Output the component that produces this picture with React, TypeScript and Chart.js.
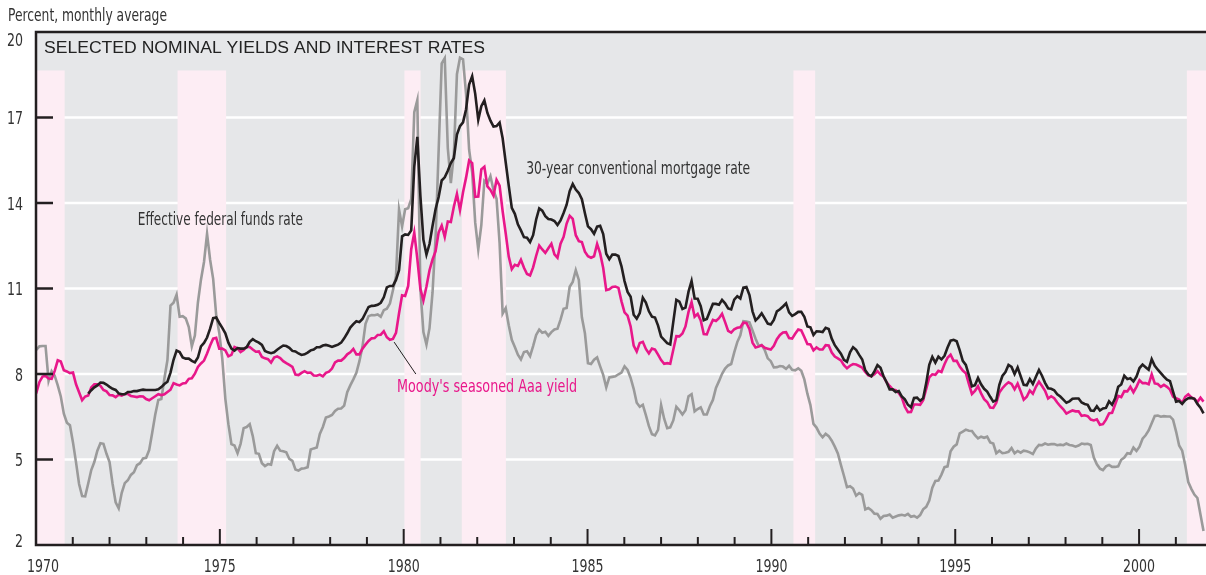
import React, { useEffect, useRef } from "react";
import { Chart, registerables } from "chart.js";

Chart.register(...registerables);

// ---- DATA ----
// Monthly averages, percent. Fed funds and Aaa start Oct 1969; mortgage starts Apr 1971.
const FED_START = 1969 + 9 / 12;
const AAA_START = 1969 + 9 / 12;
const MORT_START = 1971 + 3 / 12;

const fedFunds: number[] = [
  9.0, 8.85, 8.97,
  8.98, 8.98, 7.76, 8.1, 7.94, 7.6, 7.21, 6.61, 6.29, 6.2, 5.6, 4.9,
  4.14, 3.72, 3.71, 4.16, 4.63, 4.91, 5.31, 5.57, 5.55, 5.2, 4.91, 4.14,
  3.5, 3.29, 3.83, 4.17, 4.27, 4.46, 4.55, 4.8, 4.87, 5.04, 5.06, 5.33,
  5.94, 6.58, 7.09, 7.12, 7.84, 8.49, 10.4, 10.5, 10.78, 10.01, 10.03, 9.95,
  9.65, 8.97, 9.35, 10.51, 11.31, 11.93, 12.92, 12.01, 11.34, 10.06, 9.45, 8.53,
  7.13, 6.24, 5.54, 5.49, 5.22, 5.55, 6.1, 6.14, 6.24, 5.82, 5.22, 5.2,
  4.87, 4.77, 4.84, 4.82, 5.29, 5.48, 5.31, 5.29, 5.25, 5.02, 4.95, 4.65,
  4.61, 4.68, 4.69, 4.73, 5.35, 5.39, 5.42, 5.9, 6.14, 6.47, 6.51, 6.56,
  6.7, 6.78, 6.79, 6.89, 7.36, 7.6, 7.81, 8.04, 8.45, 8.96, 9.76, 10.03,
  10.07, 10.06, 10.09, 10.01, 10.24, 10.29, 10.47, 10.94, 11.43, 13.77, 13.18, 13.78,
  13.82, 14.13, 17.19, 17.61, 10.98, 9.47, 9.03, 9.61, 10.87, 12.81, 15.85, 18.9,
  19.08, 15.93, 14.7, 15.72, 18.52, 19.1, 19.04, 17.82, 15.87, 15.08, 13.31, 12.37,
  13.22, 14.78, 14.68, 14.94, 14.45, 14.15, 12.59, 10.12, 10.31, 9.71, 9.2, 8.95,
  8.68, 8.51, 8.77, 8.8, 8.63, 8.98, 9.37, 9.56, 9.45, 9.48, 9.34, 9.47,
  9.56, 9.59, 9.91, 10.29, 10.32, 11.06, 11.23, 11.64, 11.3, 9.99, 9.43, 8.38,
  8.35, 8.5, 8.58, 8.27, 7.97, 7.53, 7.88, 7.9, 7.92, 7.99, 8.05, 8.27,
  8.14, 7.86, 7.48, 6.99, 6.85, 6.92, 6.56, 6.17, 5.89, 5.85, 6.04, 6.91,
  6.43, 6.1, 6.13, 6.37, 6.85, 6.73, 6.58, 6.73, 7.22, 7.29, 6.69, 6.77,
  6.83, 6.58, 6.58, 6.87, 7.09, 7.51, 7.75, 8.01, 8.19, 8.3, 8.35, 8.76,
  9.12, 9.36, 9.85, 9.84, 9.81, 9.53, 9.24, 8.99, 9.02, 8.84, 8.55, 8.45,
  8.23, 8.24, 8.28, 8.26, 8.18, 8.29, 8.15, 8.13, 8.2, 8.11, 7.81, 7.31,
  6.91, 6.25, 6.12, 5.91, 5.78, 5.9, 5.82, 5.66, 5.45, 5.21, 4.81, 4.43,
  4.03, 4.06, 3.98, 3.73, 3.82, 3.76, 3.25, 3.3, 3.22, 3.1, 3.09, 2.92,
  3.02, 3.03, 3.07, 2.96, 3.0, 3.04, 3.06, 3.03, 3.09, 2.99, 3.02, 2.96,
  3.05, 3.25, 3.34, 3.56, 4.01, 4.25, 4.26, 4.47, 4.73, 4.76, 5.29, 5.45,
  5.53, 5.92, 5.98, 6.05, 6.01, 6.0, 5.85, 5.74, 5.8, 5.76, 5.8, 5.6,
  5.56, 5.22, 5.31, 5.22, 5.24, 5.27, 5.4, 5.22, 5.3, 5.24, 5.31, 5.29,
  5.25, 5.19, 5.39, 5.51, 5.5, 5.56, 5.52, 5.54, 5.54, 5.5, 5.52, 5.5,
  5.56, 5.51, 5.49, 5.45, 5.49, 5.56, 5.54, 5.55, 5.51, 5.07, 4.83, 4.68,
  4.63, 4.76, 4.81, 4.74, 4.74, 4.76, 4.99, 5.07, 5.22, 5.2, 5.42, 5.3,
  5.45, 5.73, 5.85, 6.02, 6.27, 6.53, 6.54, 6.5, 6.52, 6.51, 6.51, 6.4,
  5.98, 5.49, 5.31, 4.8, 4.21, 3.97, 3.77, 3.65, 3.07, 2.49,
];

const mortgage: number[] = [
  7.31, 7.43, 7.53, 7.6, 7.7, 7.69, 7.63, 7.55, 7.48,
  7.44, 7.32, 7.29, 7.29, 7.37, 7.37, 7.4, 7.4, 7.43, 7.45, 7.44, 7.44,
  7.44, 7.44, 7.46, 7.54, 7.65, 7.73, 8.05, 8.5, 8.82, 8.77, 8.58, 8.54,
  8.54, 8.46, 8.41, 8.58, 8.97, 9.09, 9.28, 9.59, 9.96, 9.98, 9.79, 9.62,
  9.43, 9.1, 8.89, 8.82, 8.91, 8.89, 8.89, 8.94, 9.13, 9.22, 9.15, 9.1,
  9.02, 8.81, 8.76, 8.73, 8.76, 8.85, 8.93, 9.0, 8.98, 8.92, 8.81, 8.79,
  8.72, 8.67, 8.69, 8.75, 8.83, 8.86, 8.94, 8.94, 9.0, 9.02, 8.99, 8.95,
  8.99, 9.03, 9.1, 9.25, 9.43, 9.63, 9.75, 9.85, 9.82, 9.93, 10.14, 10.35,
  10.39, 10.4, 10.43, 10.5, 10.69, 11.04, 11.09, 11.09, 11.3, 11.64, 12.83, 12.9,
  12.88, 13.04, 15.28, 16.32, 14.26, 12.71, 12.19, 12.56, 13.2, 13.79, 14.21, 14.79,
  14.9, 15.13, 15.4, 15.58, 16.4, 16.7, 16.83, 17.29, 18.16, 18.45, 17.83, 16.92,
  17.4, 17.6, 17.16, 16.89, 16.68, 16.7, 16.82, 16.27, 15.43, 14.61, 13.83, 13.62,
  13.25, 13.04, 12.8, 12.78, 12.63, 12.87, 13.42, 13.81, 13.73, 13.54, 13.44, 13.42,
  13.37, 13.23, 13.39, 13.65, 13.94, 14.42, 14.67, 14.47, 14.35, 14.13, 13.64, 13.18,
  13.08, 12.92, 13.17, 13.2, 12.91, 12.22, 12.03, 12.19, 12.19, 12.14, 11.78, 11.26,
  10.88, 10.71, 10.08, 9.94, 10.14, 10.68, 10.51, 10.2, 10.01, 9.98, 9.7, 9.31,
  9.2, 9.08, 9.04, 9.83, 10.6, 10.54, 10.28, 10.33, 10.89, 11.26, 10.65, 10.64,
  10.38, 9.89, 9.93, 10.2, 10.46, 10.46, 10.43, 10.6, 10.48, 10.3, 10.27, 10.61,
  10.73, 10.65, 11.03, 11.05, 10.77, 10.2, 9.88, 9.99, 10.13, 9.95, 9.77, 9.74,
  9.9, 10.2, 10.27, 10.37, 10.48, 10.16, 10.04, 10.1, 10.18, 10.18, 10.01, 9.67,
  9.64, 9.37, 9.5, 9.49, 9.47, 9.62, 9.58, 9.24, 9.01, 8.86, 8.71, 8.5,
  8.43, 8.76, 8.94, 8.85, 8.67, 8.51, 8.13, 7.98, 7.92, 8.09, 8.31, 8.22,
  7.92, 7.71, 7.46, 7.46, 7.37, 7.4, 7.21, 7.11, 6.92, 6.83, 7.16, 7.17,
  7.06, 7.15, 7.68, 8.32, 8.6, 8.4, 8.61, 8.51, 8.64, 8.93, 9.17, 9.2,
  9.15, 8.83, 8.46, 8.32, 7.96, 7.57, 7.61, 7.86, 7.64, 7.48, 7.38, 7.2,
  7.03, 7.08, 7.62, 7.93, 8.07, 8.32, 8.25, 8.0, 8.23, 7.92, 7.62, 7.6,
  7.82, 7.65, 7.9, 8.14, 7.94, 7.69, 7.5, 7.48, 7.43, 7.29, 7.21, 7.1,
  6.99, 7.04, 7.13, 7.14, 7.14, 7.0, 6.95, 6.92, 6.72, 6.71, 6.87, 6.72,
  6.79, 6.81, 7.04, 6.92, 7.15, 7.55, 7.63, 7.94, 7.82, 7.85, 7.74, 7.91,
  8.21, 8.33, 8.24, 8.15, 8.52, 8.29, 8.15, 8.03, 7.91, 7.8, 7.75, 7.38,
  7.03, 7.05, 6.95, 7.08, 7.15, 7.16, 7.13, 6.95, 6.82, 6.62,
];

const aaa: number[] = [
  7.33, 7.35, 7.72,
  7.91, 7.93, 7.84, 7.83, 8.11, 8.48, 8.44, 8.13, 8.09, 8.03, 8.05, 7.64,
  7.36, 7.08, 7.21, 7.25, 7.53, 7.64, 7.64, 7.59, 7.44, 7.39, 7.26, 7.25,
  7.19, 7.27, 7.24, 7.3, 7.3, 7.23, 7.21, 7.19, 7.22, 7.21, 7.12, 7.08,
  7.15, 7.22, 7.29, 7.26, 7.29, 7.37, 7.45, 7.68, 7.63, 7.6, 7.67, 7.68,
  7.83, 7.85, 8.01, 8.25, 8.37, 8.47, 8.72, 9.0, 9.24, 9.27, 8.89, 8.89,
  8.83, 8.62, 8.67, 8.95, 8.9, 8.77, 8.84, 8.95, 8.95, 8.86, 8.78, 8.79,
  8.6, 8.55, 8.52, 8.4, 8.58, 8.62, 8.56, 8.45, 8.38, 8.32, 8.25, 7.98,
  7.96, 8.04, 8.1, 8.04, 8.05, 7.95, 7.94, 7.98, 7.92, 8.04, 8.08, 8.19,
  8.41, 8.47, 8.47, 8.56, 8.69, 8.76, 8.88, 8.69, 8.69, 8.89, 9.03, 9.16,
  9.25, 9.26, 9.37, 9.38, 9.5, 9.29, 9.2, 9.23, 9.44, 10.13, 10.76, 10.74,
  11.09, 12.38, 12.96, 12.04, 10.99, 10.58, 11.07, 11.64, 12.02, 12.31, 12.97, 13.21,
  12.81, 13.35, 13.33, 13.88, 14.32, 13.75, 14.38, 14.89, 15.49, 15.4, 14.22, 14.23,
  15.18, 15.27, 14.58, 14.46, 14.26, 14.81, 14.61, 13.71, 12.94, 12.12, 11.68, 11.83,
  11.79, 12.01, 11.73, 11.51, 11.46, 11.74, 12.15, 12.51, 12.37, 12.25, 12.41, 12.57,
  12.2, 12.08, 12.57, 12.81, 13.28, 13.55, 13.44, 12.87, 12.66, 12.63, 12.29, 12.13,
  12.08, 12.13, 12.56, 12.23, 11.72, 10.94, 10.97, 11.05, 11.07, 11.02, 10.55, 10.16,
  10.05, 9.67, 9.0, 8.79, 9.09, 9.13, 8.88, 8.72, 8.89, 8.86, 8.68, 8.49,
  8.36, 8.38, 8.36, 8.85, 9.33, 9.32, 9.42, 9.67, 10.18, 10.52, 10.01, 10.11,
  9.88, 9.4, 9.39, 9.67, 9.9, 9.86, 9.96, 10.11, 9.82, 9.51, 9.45, 9.57,
  9.62, 9.64, 9.8, 9.79, 9.57, 9.1, 8.93, 8.96, 9.01, 8.92, 8.89, 8.86,
  8.99, 9.22, 9.37, 9.46, 9.47, 9.26, 9.24, 9.41, 9.56, 9.53, 9.3, 9.05,
  9.04, 8.83, 8.93, 8.86, 8.86, 9.01, 9.0, 8.75, 8.61, 8.55, 8.48, 8.31,
  8.2, 8.29, 8.35, 8.33, 8.28, 8.22, 8.07, 7.95, 7.92, 7.99, 8.1, 7.98,
  7.91, 7.71, 7.58, 7.46, 7.43, 7.33, 7.17, 6.85, 6.66, 6.67, 6.93, 6.93,
  6.92, 7.08, 7.48, 7.88, 7.99, 7.97, 8.11, 8.07, 8.34, 8.57, 8.68, 8.46,
  8.46, 8.26, 8.12, 8.03, 7.65, 7.3, 7.41, 7.57, 7.32, 7.12, 7.02, 6.82,
  6.81, 6.99, 7.35, 7.5, 7.62, 7.71, 7.65, 7.46, 7.66, 7.39, 7.1, 7.2,
  7.42, 7.31, 7.55, 7.73, 7.58, 7.41, 7.14, 7.22, 7.15, 7.0, 6.87, 6.76,
  6.61, 6.67, 6.72, 6.69, 6.69, 6.53, 6.55, 6.52, 6.4, 6.37, 6.41, 6.22,
  6.24, 6.4, 6.62, 6.64, 6.93, 7.23, 7.19, 7.4, 7.39, 7.55, 7.36, 7.55,
  7.78, 7.68, 7.68, 7.64, 7.99, 7.67, 7.65, 7.55, 7.62, 7.55, 7.45, 7.21,
  7.15, 7.1, 6.98, 7.2, 7.29, 7.18, 7.13, 7.02, 7.17, 7.03,
];

// Recession periods (decimal years, axis scale)
const recessions: [number, number][] = [
  [1969.9, 1970.78],
  [1973.85, 1975.17],
  [1980.02, 1980.46],
  [1981.58, 1982.78],
  [1990.6, 1991.19],
  [2001.3, 2001.85],
];
const SHADE_TOP = 18.65;

const yTicks = [2, 5, 8, 11, 14, 17, 20];
const yGrid = [5, 8, 11, 14, 17];
const xMajor = [1970, 1975, 1980, 1985, 1990, 1995, 2000];
const xMinor = [
  1971, 1972, 1973, 1974, 1976, 1977, 1978, 1979, 1981, 1982, 1983, 1984,
  1986, 1987, 1988, 1989, 1991, 1992, 1993, 1994, 1996, 1997, 1998, 1999, 2001,
];

// axis (tick) scale and data scale ranges
const X_MIN = 1970;
const X_MAX = 2001.82;
const XD_MIN = 1969.822;
const XD_MAX = 2001.818;
const Y_MIN = 2;
const Y_MAX = 20;

const TITLE = "SELECTED NOMINAL YIELDS AND INTEREST RATES";
const UNIT_LABEL = "Percent, monthly average";
const LABEL_FED = "Effective federal funds rate";
const LABEL_MORT = "30-year conventional mortgage rate";
const LABEL_AAA = "Moody's seasoned Aaa yield";

const toPoints = (vals: number[], start: number) =>
  vals.map((v, i) => ({ x: start + i / 12, y: v }));

const COND = "'Liberation Sans Narrow', 'DejaVu Sans Condensed', 'Roboto Condensed', sans-serif";
const REG = "'Liberation Sans', Arial, sans-serif";

const BLACK = "#231f20";
const MAGENTA = "#e8178a";
const GRAY = "#9a9a9a";
const BG = "#e6e7e9";
const PINK = "#fdedf4";
const TEXT = "#333333";

function fitText(
  ctx: CanvasRenderingContext2D,
  text: string,
  x: number,
  y: number,
  font: string,
  color: string,
  width: number,
  align: "left" | "center" | "right" = "left"
) {
  ctx.save();
  ctx.font = font;
  ctx.fillStyle = color;
  ctx.textBaseline = "alphabetic";
  ctx.textAlign = "left";
  const w = ctx.measureText(text).width;
  const sx = width / w;
  let left = x;
  if (align === "center") left = x - width / 2;
  if (align === "right") left = x - width;
  ctx.translate(left, y);
  ctx.scale(sx, 1);
  ctx.fillText(text, 0, 0);
  ctx.restore();
}

const decorPlugin = {
  id: "decor",
  beforeDatasetsDraw(chart: any) {
    const { ctx, chartArea: a, scales } = chart;
    const xs = scales.x;
    const ys = scales.y;
    ctx.save();
    ctx.fillStyle = BG;
    ctx.fillRect(a.left, a.top, a.right - a.left, a.bottom - a.top);
    ctx.strokeStyle = "#ffffff";
    ctx.lineWidth = 2.5;
    yGrid.forEach((v) => {
      const y = ys.getPixelForValue(v);
      ctx.beginPath();
      ctx.moveTo(a.left, y);
      ctx.lineTo(a.right, y);
      ctx.stroke();
    });
    ctx.fillStyle = PINK;
    const yt = ys.getPixelForValue(SHADE_TOP);
    recessions.forEach(([s, e]) => {
      const x0 = Math.max(xs.getPixelForValue(s), a.left);
      const x1 = Math.min(xs.getPixelForValue(e), a.right);
      ctx.fillRect(x0, yt, x1 - x0, a.bottom - yt);
    });
    ctx.restore();
  },
  afterDatasetsDraw(chart: any) {
    const { ctx, chartArea: a, scales } = chart;
    const xs = scales.x;
    const ys = scales.y;
    ctx.save();
    ctx.strokeStyle = BLACK;
    ctx.lineCap = "butt";
    ctx.lineWidth = 2.5;
    ctx.beginPath();
    ctx.moveTo(a.right, a.top);
    ctx.lineTo(a.left, a.top);
    ctx.lineTo(a.left, a.bottom);
    ctx.lineTo(a.right, a.bottom);
    ctx.stroke();
    yTicks.forEach((v) => {
      if (v === Y_MIN || v === Y_MAX) return;
      const y = ys.getPixelForValue(v);
      ctx.beginPath();
      ctx.moveTo(a.left, y);
      ctx.lineTo(a.left + 17, y);
      ctx.stroke();
    });
    ctx.lineWidth = 2;
    xMajor.forEach((v) => {
      if (v === X_MIN) return;
      const x = xs.getPixelForValue(v);
      ctx.beginPath();
      ctx.moveTo(x, a.bottom);
      ctx.lineTo(x, a.bottom - 16);
      ctx.stroke();
    });
    xMinor.forEach((v) => {
      const x = xs.getPixelForValue(v);
      ctx.beginPath();
      ctx.moveTo(x, a.bottom);
      ctx.lineTo(x, a.bottom - 8);
      ctx.stroke();
    });
    const tickFont = `17px ${COND}`;
    yTicks.forEach((v) => {
      const yc = Math.min(Math.max(ys.getPixelForValue(v), a.top + 7), a.bottom - 5);
      const s = String(v);
      fitText(ctx, s, a.left - 13, yc + 6.5, tickFont, TEXT, s.length * 8, "right");
    });
    xMajor.forEach((v) => {
      const xc = Math.max(xs.getPixelForValue(v), a.left + 7);
      fitText(ctx, String(v), xc, a.bottom + 27, tickFont, TEXT, 32, "center");
    });
    fitText(ctx, UNIT_LABEL, 8, 21, `17px ${COND}`, TEXT, 159);
    fitText(ctx, TITLE, a.left + 8, a.top + 21, `16px ${REG}`, "#222222", 441);
    const annFont = `18px ${COND}`;
    fitText(ctx, LABEL_FED, xs.getPixelForValue(1972.77), ys.getPixelForValue(13.23), annFont, TEXT, 165);
    fitText(ctx, LABEL_MORT, xs.getPixelForValue(1983.33), ys.getPixelForValue(15.02), annFont, TEXT, 224);
    fitText(ctx, LABEL_AAA, xs.getPixelForValue(1979.82), ys.getPixelForValue(7.37), annFont, MAGENTA, 180);
    ctx.strokeStyle = BLACK;
    ctx.lineWidth = 1;
    ctx.beginPath();
    ctx.moveTo(xs.getPixelForValue(1979.74), ys.getPixelForValue(9.12));
    ctx.lineTo(xs.getPixelForValue(1980.33), ys.getPixelForValue(8.0));
    ctx.stroke();
    ctx.restore();
  },
};

export default function App() {
  const ref = useRef<HTMLCanvasElement | null>(null);
  useEffect(() => {
    document.body.style.margin = "0";
    const canvas = ref.current;
    if (!canvas) return;
    const common = { borderWidth: 2.6, pointRadius: 0, tension: 0, xAxisID: "xd", yAxisID: "y" };
    const chart = new Chart(canvas, {
      type: "line",
      data: {
        datasets: [
          { label: LABEL_MORT, data: toPoints(mortgage, MORT_START), borderColor: BLACK, ...common },
          { label: LABEL_AAA, data: toPoints(aaa, AAA_START), borderColor: MAGENTA, ...common },
          { label: LABEL_FED, data: toPoints(fedFunds, FED_START), borderColor: GRAY, ...common },
        ],
      },
      options: {
        responsive: false,
        animation: false,
        devicePixelRatio: 1,
        layout: { padding: { left: 36, top: 32, right: 0, bottom: 30 } },
        plugins: { legend: { display: false }, tooltip: { enabled: false } },
        scales: {
          x: { type: "linear", min: X_MIN, max: X_MAX, display: false },
          xd: { type: "linear", axis: "x", position: "bottom", min: XD_MIN, max: XD_MAX, display: false },
          y: { type: "linear", min: Y_MIN, max: Y_MAX, display: false },
        },
      },
      plugins: [decorPlugin],
    });
    return () => chart.destroy();
  }, []);
  return (
    <div style={{ position: "fixed", left: 0, top: 0, width: 1206, height: 575, background: "#fff" }}>
      <canvas ref={ref} width={1206} height={575} style={{ width: 1206, height: 575, display: "block" }} />
    </div>
  );
}
